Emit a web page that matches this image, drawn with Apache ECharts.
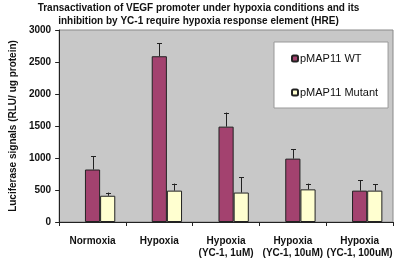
<!DOCTYPE html>
<html><head><meta charset="utf-8">
<script src="https://cdn.jsdelivr.net/npm/echarts@6/dist/echarts.min.js"></script>
<style>html,body{margin:0;padding:0;background:#fff}#c{width:397px;height:259px}</style>
</head><body><div id="c"></div>
<script>
const titleLines = ['Transactivation of VEGF promoter under hypoxia conditions and its', 'inhibition by YC-1 require hypoxia response element (HRE)'];
const categories = ['Normoxia', 'Hypoxia', 'Hypoxia\n(YC-1, 1uM)', 'Hypoxia\n(YC-1, 10uM)', 'Hypoxia\n(YC-1, 100uM)'];
const wtValues = [820, 2590, 1490, 990, 490];
const wtErrorTop = [1030, 2790, 1710, 1140, 650];
const mutantValues = [410, 490, 460, 510, 490];
const mutantErrorTop = [460, 600, 700, 600, 590];
const yTicks = [0, 500, 1000, 1500, 2000, 2500, 3000];

const BAR_FRAC = 0.227;
function errSeries(name, tops, vals, offsetMul) {
  return {
    type: 'custom', name: name + ' err', silent: true, z: 5,
    data: tops.map((t, i) => [i, vals[i], t]),
    renderItem: function (params, api) {
      const i = api.value(0);
      const base = api.coord([i, api.value(1)]);
      const top = api.coord([i, api.value(2)]);
      const bw = api.size([1, 0])[0] * BAR_FRAC;
      const x = Math.round(base[0] + offsetMul * bw) + 0.5;
      const cap = 2.5;
      return {
        type: 'group', children: [
          { type: 'line', shape: { x1: x, y1: base[1], x2: x, y2: top[1] }, style: { stroke: '#222', lineWidth: 1 } },
          { type: 'line', shape: { x1: x - cap, y1: Math.round(top[1]) + 0.5, x2: x + cap, y2: Math.round(top[1]) + 0.5 }, style: { stroke: '#222', lineWidth: 1 } }
        ]
      };
    }
  };
}

const titleStyle = { fontFamily: 'Liberation Sans, Arial', fontSize: 10, fontWeight: 'bold', color: '#111' };
const chart = echarts.init(document.getElementById('c'));
chart.setOption({
  animation: false,
  title: [
    { text: titleLines[0], left: 'center', top: 3, padding: 0, textStyle: titleStyle },
    { text: titleLines[1], left: 'center', top: 16, padding: 0, textStyle: titleStyle }
  ],
  legend: {
    data: ['pMAP11 WT', 'pMAP11 Mutant'],
    orient: 'vertical', left: 274, top: 42, width: 114, height: 66,
    padding: [11, 10, 10, 17], itemGap: 23,
    itemWidth: 6, itemHeight: 6,
    backgroundColor: '#fff', borderColor: '#999', borderWidth: 1,
    textStyle: { fontFamily: 'Liberation Sans, Arial', fontSize: 11, color: '#111', padding: [0, 0, 0, -3] }
  },
  grid: { left: 52, right: 4, top: 30, bottom: 37, show: true, backgroundColor: '#C8C8C8', borderColor: '#8a8a8a', borderWidth: 1 },
  xAxis: {
    type: 'category', data: categories,
    axisLine: { lineStyle: { color: '#222' } },
    axisTick: { show: true, alignWithLabel: false, length: 4, lineStyle: { color: '#222' } },
    axisLabel: { interval: 0, margin: 13, fontFamily: 'Liberation Sans, Arial', fontSize: 10, fontWeight: 'bold', color: '#111', lineHeight: 12 }
  },
  yAxis: {
    type: 'value', min: 0, max: 3000, interval: 500,
    name: 'Luciferase signals (RLU/ ug protein)', nameLocation: 'middle', nameGap: 40,
    nameTextStyle: { fontFamily: 'Liberation Sans, Arial', fontSize: 10, fontWeight: 'bold', color: '#111' },
    axisLine: { show: true, lineStyle: { color: '#222' } },
    axisTick: { show: true, length: 4, lineStyle: { color: '#222' } },
    splitLine: { show: false },
    axisLabel: { margin: 8, fontFamily: 'Liberation Sans, Arial', fontSize: 10, fontWeight: 'bold', color: '#111',
      formatter: v => yTicks.includes(v) ? String(v) : '' }
  },
  series: [
    { type: 'bar', name: 'spacer', data: categories.map(() => null), barWidth: '22.7%', barGap: '0%', silent: true },
    { type: 'bar', name: 'pMAP11 WT', data: wtValues, barWidth: '22.7%', barGap: '0%',
      itemStyle: { color: '#A3426F', borderColor: '#222', borderWidth: 1 } },
    { type: 'bar', name: 'pMAP11 Mutant', data: mutantValues, barWidth: '22.7%', barGap: '0%',
      itemStyle: { color: '#FFFFD0', borderColor: '#222', borderWidth: 1 } },
    errSeries('wt', wtErrorTop, wtValues, 0),
    errSeries('mut', mutantErrorTop, mutantValues, 1)
  ]
});
</script></body></html>
